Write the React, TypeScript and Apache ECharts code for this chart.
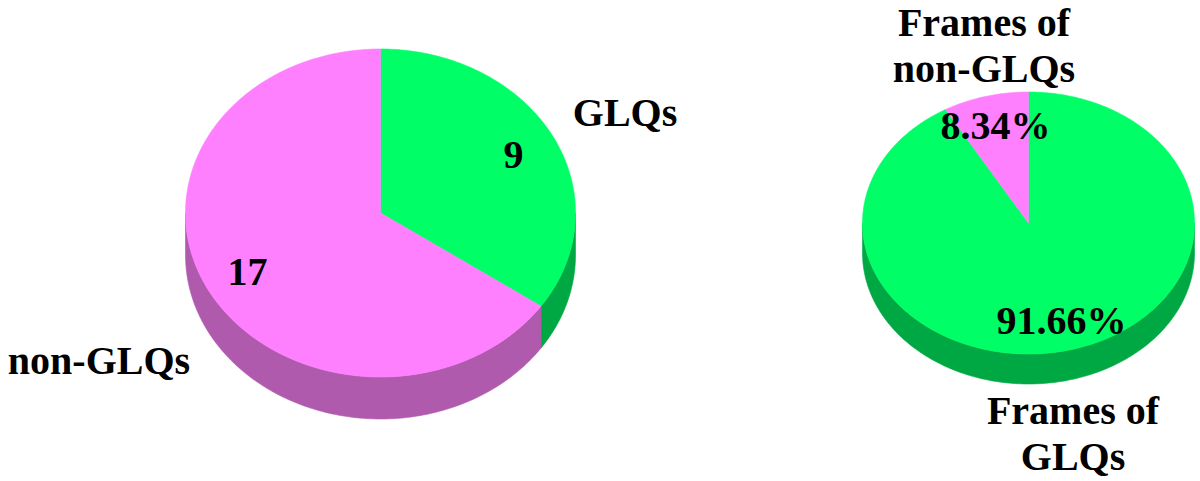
import React, { useEffect, useRef } from 'react';
import * as echarts from 'echarts';

// ---- data ----
const leftNames = ['GLQs', 'non-GLQs'];
const leftValues = [9, 17];
const leftValueLabels = ['9', '17'];

const rightNames = ['Frames of\nGLQs', 'Frames of\nnon-GLQs'];
const rightValues = [91.66, 8.34];
const rightValueLabels = ['91.66%', '8.34%'];

// ---- styles / layout ----
const topColors = ['#00FF66', '#FF80FF'];
const sideColors = ['#00A843', '#B05AAE'];
const FONT = '"Liberation Serif", "Times New Roman", serif';

const layouts = [
  { cx: 380.5, cy: 213, rx: 195, ry: 164, depth: 42, labelR: 0.77, namePos: [[625, 112], [99, 360]] },
  { cx: 1028.5, cy: 223, rx: 166, ry: 131, depth: 30, labelR: 0.77, namePos: [[1073, 433], [984, 45]] },
];

function makeRenderItem(values: number[], names: string[], valueLabels: string[], lay: any) {
  const total = values.reduce((a, b) => a + b, 0);
  const D = Math.PI / 180;
  const pt = (deg: number, dy: number) => [
    lay.cx + lay.rx * Math.sin(deg * D),
    lay.cy - lay.ry * Math.cos(deg * D) + dy,
  ];
  const arc = (a0: number, a1: number, dy: number) => {
    const pts: number[][] = [];
    const n = Math.max(2, Math.ceil(Math.abs(a1 - a0)));
    for (let i = 0; i <= n; i++) pts.push(pt(a0 + ((a1 - a0) * i) / n, dy));
    return pts;
  };
  return (params: any) => {
    const idx = params.dataIndex;
    let start = 0;
    for (let i = 0; i < idx; i++) start += (values[i] / total) * 360;
    const end = start + (values[idx] / total) * 360;
    const children: any[] = [];
    // side wall (front-facing part only)
    const s0 = Math.max(start, 90);
    const s1 = Math.min(end, 270);
    if (s1 > s0) {
      const pts = arc(s0, s1, 0).concat(arc(s1, s0, lay.depth));
      children.push({
        type: 'polygon',
        z2: 5,
        shape: { points: pts },
        style: { fill: sideColors[idx], stroke: sideColors[idx], lineWidth: 0.6 },
      });
    }
    // top face
    const topPts = [[lay.cx, lay.cy]].concat(arc(start, end, 0));
    children.push({
      type: 'polygon',
      z2: 10,
      shape: { points: topPts },
      style: { fill: topColors[idx], stroke: topColors[idx], lineWidth: 0.6 },
    });
    // value label
    const mid = (start + end) / 2;
    const lp = [
      lay.cx + lay.rx * lay.labelR * Math.sin(mid * D),
      lay.cy - lay.ry * lay.labelR * Math.cos(mid * D),
    ];
    children.push({
      type: 'text',
      z2: 100,
      x: lp[0],
      y: lp[1],
      style: {
        text: valueLabels[idx],
        align: 'center',
        verticalAlign: 'middle',
        fontFamily: FONT,
        fontWeight: 'bold',
        fontSize: 40,
        fill: '#000',
      },
    });
    // name label
    const np = lay.namePos[idx];
    children.push({
      type: 'text',
      z2: 100,
      x: np[0],
      y: np[1],
      style: {
        text: names[idx],
        align: 'center',
        verticalAlign: 'middle',
        fontFamily: FONT,
        fontWeight: 'bold',
        fontSize: 40,
        lineHeight: 46,
        fill: '#000',
      },
    });
    return { type: 'group', children };
  };
}

export default function App() {
  const ref = useRef<HTMLDivElement>(null);
  useEffect(() => {
    if (!ref.current) return;
    const chart = echarts.init(ref.current, undefined, { renderer: 'svg' });
    chart.setOption({
      animation: false,
      backgroundColor: '#ffffff',
      series: [
        {
          type: 'custom',
          coordinateSystem: 'none',
          renderItem: makeRenderItem(leftValues, leftNames, leftValueLabels, layouts[0]),
          data: leftValues.map((v, i) => ({ value: v, name: leftNames[i] })),
        },
        {
          type: 'custom',
          coordinateSystem: 'none',
          renderItem: makeRenderItem(rightValues, rightNames, rightValueLabels, layouts[1]),
          data: rightValues.map((v, i) => ({ value: v, name: rightNames[i] })),
        },
      ],
    });
    return () => chart.dispose();
  }, []);
  return (
    <div
      ref={ref}
      style={{ position: 'fixed', left: 0, top: 0, width: 1200, height: 481 }}
    />
  );
}
